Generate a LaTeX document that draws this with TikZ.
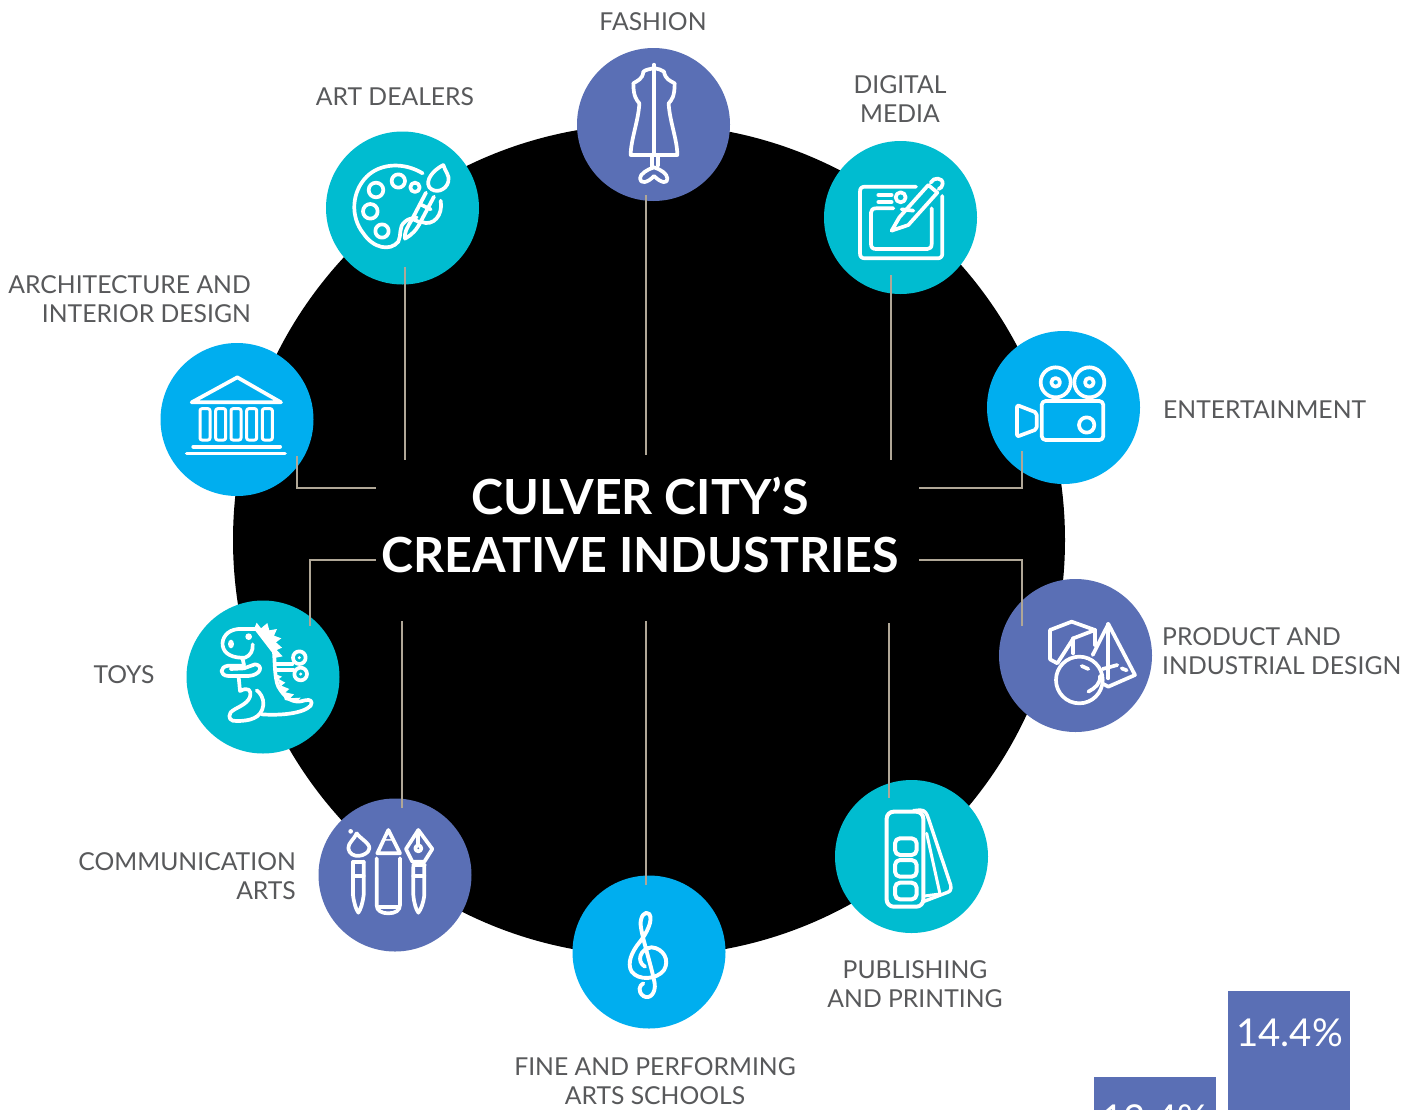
\documentclass[tikz,border=0pt]{standalone}
\usepackage{fontspec}
\setmainfont{Lato}
\definecolor{peri}{HTML}{5A6FB5}
\definecolor{teal}{HTML}{00BCD0}
\definecolor{sky}{HTML}{00AEEF}
\definecolor{lab}{HTML}{58595B}
\definecolor{wire}{HTML}{B0A797}
\tikzset{
  disc/.style={circle,minimum size=153pt,inner sep=0pt,draw=none,fill=#1},
  lbl/.style={text=lab,font=\fontsize{24.7}{29.7}\selectfont,inner sep=0pt,align=#1},
  lbl/.default=center,
  wireline/.style={draw=wire,line width=1.8pt},
  ico/.style={draw=white,line width=3.7pt,line join=round,line cap=round,fill=none},
  thin ico/.style={ico,line width=3pt},
  zoomed/.style={shift={#1},scale=1/3},
}
\begin{document}
\begin{tikzpicture}[x=1pt,y=-1pt]
\useasboundingbox (0,0) rectangle (1419,1109);
\fill[white] (0,0) rectangle (1419,1109);
\fill[black] (649,540) circle[radius=416];
% discs
\node[disc=peri] (fashion) at (653.5,124.5) {};
\node[disc=teal] (digital) at (900.5,217.5) {};
\node[disc=teal] (art) at (402.5,208) {};
\node[disc=sky] (arch) at (237,419.5) {};
\node[disc=sky] (ent) at (1063.5,407.5) {};
\node[disc=peri] (product) at (1075.5,655.5) {};
\node[disc=teal] (toys) at (263,677) {};
\node[disc=peri] (comm) at (395,875) {};
\node[disc=sky] (fine) at (649,952) {};
\node[disc=teal] (publ) at (911.5,856.5) {};
% labels
\node[lbl] (lfashion) at (653,22) {FASHION};
\node[lbl] (lart) at (395,97) {ART DEALERS};
\node[lbl] (ldigital) at (900,99) {DIGITAL\\MEDIA};
\node[lbl=right,anchor=east] (larch) at (251,299) {ARCHITECTURE AND\\INTERIOR DESIGN};
\node[lbl=left,anchor=west] (lent) at (1163,410) {ENTERTAINMENT};
\node[lbl=left,anchor=west] (lproduct) at (1162,651) {PRODUCT AND\\INDUSTRIAL DESIGN};
\node[lbl] (ltoys) at (124,675) {TOYS};
\node[lbl=right,anchor=east] (lcomm) at (296,876) {COMMUNICATION\\ARTS};
\node[lbl] (lpubl) at (915,984) {PUBLISHING\\AND PRINTING};
\node[lbl] (lfine) at (655,1081) {FINE AND PERFORMING\\ARTS SCHOOLS};
\node[text=white,font=\fontsize{48.4}{58}\selectfont\bfseries,align=center,inner sep=0pt] (title) at (640,525) {CULVER CITY’S\\CREATIVE INDUSTRIES};
% connector ends
\coordinate (a1) at (646,195); \coordinate (a2) at (646,455);
\coordinate (b1) at (891,275); \coordinate (b2) at (891,460);
\coordinate (c1) at (405,267); \coordinate (c2) at (405,460);
\coordinate (d1) at (297,456); \coordinate (d2) at (376,488);
\coordinate (e1) at (1022,451); \coordinate (e2) at (919,488);
\coordinate (f1) at (1022,626); \coordinate (f2) at (919,560);
\coordinate (g1) at (310,626); \coordinate (g2) at (376,560);
\coordinate (h1) at (402,808); \coordinate (h2) at (402,621);
\coordinate (i1) at (646,885); \coordinate (i2) at (646,621);
\coordinate (j1) at (889,798); \coordinate (j2) at (889,623);
\draw[wireline] (a1) -- (a2);
\draw[wireline] (b1) -- (b2);
\draw[wireline] (c1) -- (c2);
\draw[wireline] (d1) |- (d2);
\draw[wireline] (e1) |- (e2);
\draw[wireline] (f1) |- (f2);
\draw[wireline] (g1) |- (g2);
\draw[wireline] (h1) -- (h2);
\draw[wireline] (i1) -- (i2);
\draw[wireline] (j1) -- (j2);
% fashion + digital icons
\begin{scope}[zoomed={(560,40)}]
 \draw[ico] (282,74)--(282,345);
 \draw[ico] (212,345)--(352,345) .. controls (352,300) and (328,240) .. (326,190) .. controls (335,180) and (344,170) .. (344,130) .. controls (330,122) and (316,118) .. (312,95) .. controls (305,88) and (295,88) .. (282,84) .. controls (270,88) and (258,88) .. (250,95) .. controls (248,118) and (232,122) .. (220,130) .. controls (220,170) and (230,180) .. (238,190) .. controls (236,240) and (212,300) .. (212,345) -- cycle;
 \draw[ico] (275,350)--(275,384); \draw[ico] (294,350)--(294,376);
 \draw[ico] (282,382) .. controls (262,388) and (240,402) .. (240,415) .. controls (240,432) and (262,430) .. (282,408) .. controls (304,430) and (324,432) .. (322,415) .. controls (322,402) and (302,388) .. (282,382) -- cycle;
 % tablet
 \draw[ico] (1068,440)--(915,440) .. controls (905,440) and (900,445) .. (900,455) -- (900,640) .. controls (900,650) and (905,655) .. (915,655) -- (1132,655) .. controls (1142,655) and (1147,650) .. (1147,640) -- (1147,468);
 \draw[ico] (1000,505)--(948,505) .. controls (938,505) and (933,510) .. (933,518) -- (933,612) .. controls (933,622) and (938,627) .. (948,627) -- (1102,627) .. controls (1110,627) and (1115,622) .. (1115,612) -- (1115,505);
 \draw[ico] (955,465)--(995,465); \draw[ico] (955,486)--(995,486);
 \draw[ico] (1022,472) circle[radius=15];
 \draw[ico] (995,572)--(1018,532)--(1105,435)--(1132,458)--(1045,555)--cycle;
 \draw[ico] (1025,508)--(1060,512);
 \draw[ico] (1112,428) .. controls (1120,410) and (1150,412) .. (1148,432) .. controls (1147,440) and (1142,445) .. (1136,447);
\end{scope}
% art + architecture icons
\begin{scope}[zoomed={(150,120)}]
 \draw[ico] (818,160) .. controls (760,125) and (690,130) .. (650,170) .. controls (605,215) and (600,290) .. (640,340) .. controls (670,385) and (720,395) .. (745,365) .. controls (755,345) and (745,320) .. (765,305) .. controls (775,295) and (790,295) .. (800,292);
 \draw[ico] (678,210) circle[radius=22];
 \draw[ico] (745,183) circle[radius=20];
 \draw[ico] (795,202) circle[radius=14];
 \draw[ico] (661,274) circle[radius=22];
 \draw[ico] (696,333) circle[radius=20];
 \draw[ico] (880,135) .. controls (885,155) and (900,165) .. (895,185) .. controls (888,212) and (855,222) .. (838,202) .. controls (825,180) and (850,150) .. (880,135) -- cycle;
 \draw[ico] (828,218)--(785,300) .. controls (770,325) and (762,340) .. (765,356) .. controls (785,345) and (800,330) .. (812,305) -- (852,230);
 \draw[ico] (815,255)--(842,268); \draw[ico] (790,298)--(812,308);
 \draw[ico] (872,242) .. controls (880,285) and (850,320) .. (815,306);
 % temple
 \draw[ico] (125,847)--(262,772)--(393,847)--cycle;
 \foreach \xx in {150,197,243,290,337}
   \draw[thin ico,rounded corners=2pt] (\xx,866) rectangle ++(30,94);
 \draw[ico,line width=4pt] (130,980)--(390,980);
 \draw[ico,line width=3.6pt] (110,1001)--(405,1001);
\end{scope}
% camera + solids
\begin{scope}[zoomed={(980,320)}]
 \draw[ico] (227,187) circle[radius=45]; \draw[ico] (227,187) circle[radius=13];
 \draw[ico] (328,187) circle[radius=45]; \draw[ico] (328,187) circle[radius=13];
 \draw[ico,rounded corners=4pt] (185,243) rectangle (370,360);
 \draw[ico] (320,315) circle[radius=23];
 \draw[ico,rounded corners=2pt] (111,255)--(170,278)--(170,328)--(111,350)--cycle;
 % solids
 \draw[ico] (232,1030)--(210,1018)--(210,930)--(275,905)--(345,930)--(280,955)--cycle;
 \draw[ico] (280,955)--(280,1000); \draw[ico] (345,930)--(345,975);
 \draw[ico] (298,1080) circle[radius=70];
 \draw[ico] (305,1038)--(325,1047);
 \draw[ico] (360,1068) .. controls (362,1090) and (345,1105) .. (325,1115);
 \draw[ico] (338,1005)--(385,912)--(465,1065)--(385,1100)--(370,1092);
 \draw[ico] (385,912)--(385,1075);
 \draw[ico] (368,1047)--(412,1035); \draw[ico] (425,1045)--(440,1051);
\end{scope}
% toy
\begin{scope}[zoomed={(210,615)}]
 \draw[ico] (145,42) -- (85,42) .. controls (50,45) and (35,70) .. (38,92) .. controls (42,118) and (70,130) .. (105,128) .. controls (122,122) and (130,105) .. (128,88);
 \fill[white] (63,87) ellipse[x radius=9,y radius=13];
 \fill[white] (116,65) circle[radius=10];
 \draw[ico] (98,132)--(102,150);
 \draw[ico] (102,152) -- (55,152) .. controls (28,155) and (28,182) .. (55,183) -- (115,183) .. controls (155,180) and (160,150) .. (135,148) -- (102,160) -- (62,162);
 \draw[ico] (86,186)--(90,228) .. controls (115,215) and (125,225) .. (120,245) .. controls (112,270) and (75,278) .. (62,292) .. controls (52,308) and (62,320) .. (80,318) .. controls (115,318) and (155,312) .. (160,270) .. controls (162,250) and (150,232) .. (140,226);
 \draw[ico] (155,298) .. controls (210,302) and (280,296) .. (302,272) .. controls (310,258) and (300,252) .. (285,256) .. controls (250,268) and (225,250) .. (205,215) .. controls (192,190) and (195,120) .. (190,95) .. controls (185,70) and (170,50) .. (145,42);
 % spikes
 \fill[white] (132,42)--(140,23)--(153,40)--(172,24)--(178,46)--(201,42)--(192,62)--(214,70)--(198,82)--(216,98)--(200,105)--(218,124)--(198,128)--cycle;
 \fill[white] (198,178)--(216,185)--(206,192)--(226,203)--(214,212)--(238,222)--(226,232)--(252,238)--(240,250)--(272,248)--(258,262)--(225,255)--cycle;
 \draw[ico] (196,148)--(247,148); \draw[ico] (196,166)--(250,166);
 \draw[ico,fill=teal] (268,128) circle[radius=19]; \draw[ico,fill=teal] (272,177) circle[radius=19];
 \fill[white] (268,128) circle[radius=5]; \fill[white] (272,177) circle[radius=5];
\end{scope}
% tools
\begin{scope}[zoomed={(180,590)}]
 \fill[white] (512,724) circle[radius=7];
 \draw[ico] (530,730) .. controls (540,745) and (570,760) .. (568,775) .. controls (565,800) and (510,810) .. (505,775) .. controls (503,760) and (525,745) .. (530,730);
 \draw[ico] (519,815)--(551,815);
 \draw[ico] (519,815)--(519,915) .. controls (522,940) and (528,958) .. (535,968) .. controls (542,958) and (548,940) .. (551,915) -- (551,815);
 \draw[ico] (519,857)--(551,857);
 % pencil
 \draw[ico] (625,720)--(592,790)--(660,790)--cycle;
 \fill[white] (625,722)--(611,752)--(639,752)--cycle;
 \fill[peri] (625,734)--(618,747)--(632,747)--cycle;
 \draw[ico] (590,805)--(590,945) .. controls (590,962) and (605,970) .. (625,970) .. controls (645,970) and (660,962) .. (660,945) -- (660,805);
 \draw[ico] (598,950)--(652,950);
 % pen
 \draw[ico] (715,720)--(757,777)--(733,815)--(697,815)--(678,777)--cycle;
 \draw[ico] (715,775) circle[radius=9];
 \draw[ico] (715,722)--(715,764);
 \draw[ico] (700,826)--(734,826);
 \draw[ico] (700,830)--(700,915) .. controls (702,940) and (708,958) .. (715,968) .. controls (723,958) and (730,940) .. (733,915) -- (733,830);
 \draw[ico] (700,857)--(733,857);
\end{scope}
% clef + swatches
\begin{scope}[zoomed={(560,770)}]
 \draw[ico,line width=3.9pt] (250,640) .. controls (238,645) and (232,665) .. (250,678) .. controls (270,690) and (288,668) .. (284,640) .. controls (275,590) and (245,500) .. (242,465) .. controls (240,440) and (255,420) .. (268,432) .. controls (280,450) and (260,490) .. (240,515) .. controls (215,545) and (200,580) .. (215,605) .. controls (235,632) and (290,630) .. (312,600) .. controls (330,570) and (310,535) .. (275,532) .. controls (240,535) and (228,575) .. (255,590);
 % swatches
 \draw[ico,line width=4pt,rounded corners=7pt] (980,125) rectangle (1090,410);
 \foreach \yy in {205,270,338}
   \draw[ico,line width=4pt,rounded corners=5pt] (1005,\yy) rectangle ++(65,50);
 \draw[ico,line width=3.4pt] (1060,122)--(1080,120) .. controls (1095,120) and (1100,130) .. (1105,145) -- (1172,345) .. controls (1175,360) and (1170,365) .. (1160,368) -- (1092,394);
 \draw[ico,line width=3pt] (1100,190)--(1140,372);
 \draw[ico,line width=3pt] (1093,378)--(1140,372);
\end{scope}
% bottom bars
\begin{scope}
 \clip (0,0) rectangle (1419,1109);
 \fill[peri] (1228,991) rectangle (1350,1120);
 \fill[peri] (1094,1077) rectangle (1216,1120);
 \node[text=white,font=\fontsize{38.4}{44}\selectfont,inner sep=0pt] (v1) at (1289.5,1033) {14.4\%};
 \node[text=white,font=\fontsize{38.4}{44}\selectfont,inner sep=0pt] (v2) at (1155,1119) {13.4\%};
\end{scope}
\end{tikzpicture}
\end{document}
